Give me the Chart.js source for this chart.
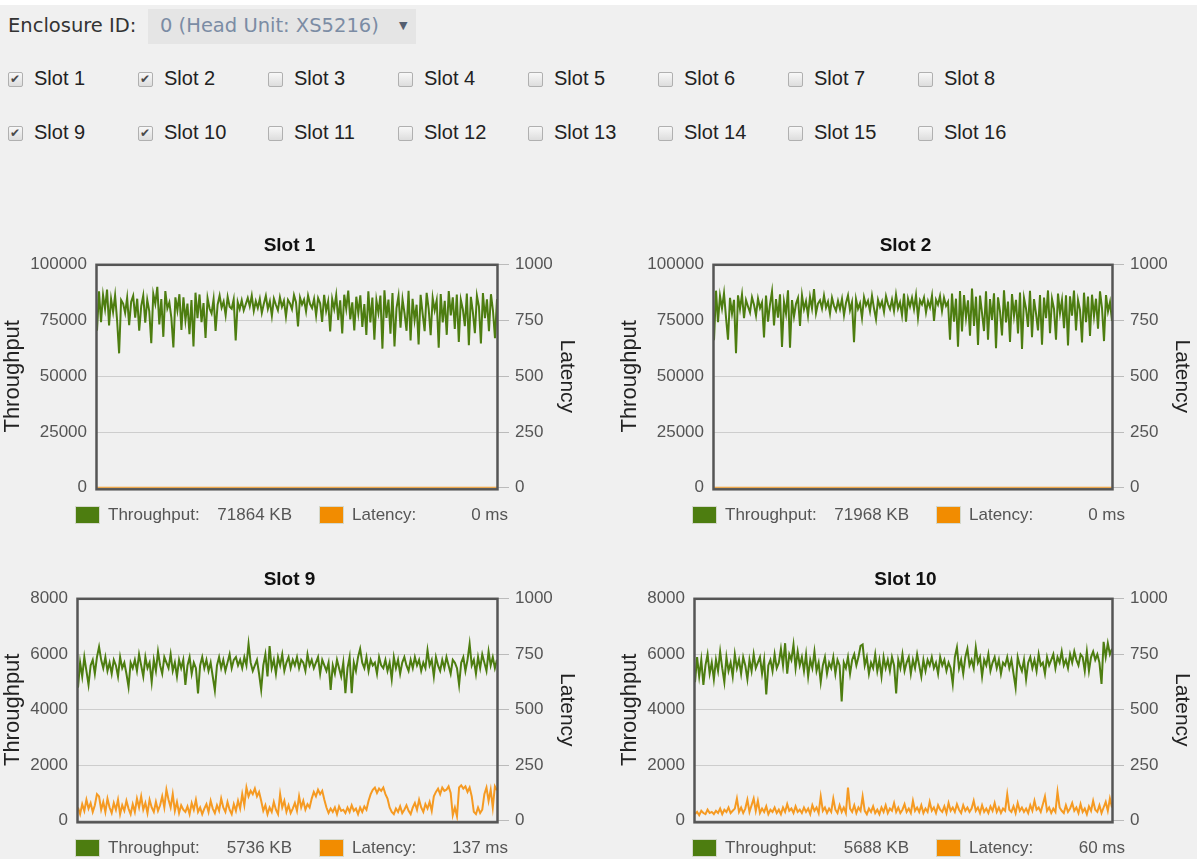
<!DOCTYPE html>
<html>
<head>
<meta charset="utf-8">
<script src="https://cdn.jsdelivr.net/npm/chart.js@4.4.1/dist/chart.umd.min.js"></script>
<style>
  body { margin: 0; width: 1197px; height: 859px; background: #f0f0f0; position: relative; overflow: hidden;
         font-family: "Liberation Sans", Arial, sans-serif; }
  .topbar { position: absolute; left: 0; top: 0; width: 1197px; height: 5px; background: #fff; }
  .enc-label { position: absolute; left: 8px; top: 14px; font: 19.5px "DejaVu Sans"; color: #333; white-space: nowrap; }
  .enc-select { position: absolute; left: 148px; top: 9px; width: 268px; height: 35px; background: #e5e5e5; }
  .enc-select .val { position: absolute; left: 12px; top: 5px; font: 19.5px "DejaVu Sans"; color: #7b8ca4; white-space: nowrap; }
  .enc-select .arrow { position: absolute; left: 251px; top: 10px; font: 11px "DejaVu Sans"; color: #555f70; }
  .slot { position: absolute; height: 20px; }
  .slot .box { position: absolute; left: 0; top: 2px; width: 13px; height: 13px; border: 1px solid #b0b0b0; border-radius: 2px;
               background: linear-gradient(#f8f8f8, #dddddd); }
  .slot .tick { position: absolute; left: 1px; top: -1px; font: 12px "DejaVu Sans"; color: #4a4a4a; }
  .slot .txt { position: absolute; left: 26px; top: -3px; font-size: 20px; color: #222; white-space: nowrap; }
  canvas { position: absolute; }
  .legend { position: absolute; height: 18px; font-size: 17px; color: #555; z-index: 2; }
  .legend .sw { position: absolute; top: 0; width: 23px; height: 16px; border: 1px solid #d4d8cc; }
  .legend span { position: absolute; top: -1px; white-space: nowrap; }
</style>
</head>
<body>
<div class="topbar"></div>
<div class="enc-label">Enclosure ID:</div>
<div class="enc-select"><span class="val">0 (Head Unit: XS5216)</span><span class="arrow">▼</span></div>
<div id="slots"></div>

<canvas id="chart1" width="579" height="278" style="left:0px;top:230px"></canvas>
<canvas id="chart2" width="577" height="278" style="left:617px;top:230px"></canvas>
<canvas id="chart9" width="579" height="277" style="left:0px;top:564px"></canvas>
<canvas id="chart10" width="577" height="277" style="left:617px;top:564px"></canvas>
<div id="legends"></div>

<script>
// header checkboxes
const slotLabels = ['Slot 1', 'Slot 2', 'Slot 3', 'Slot 4', 'Slot 5', 'Slot 6', 'Slot 7', 'Slot 8',
  'Slot 9', 'Slot 10', 'Slot 11', 'Slot 12', 'Slot 13', 'Slot 14', 'Slot 15', 'Slot 16'];
const checkedSlots = ['Slot 1', 'Slot 2', 'Slot 9', 'Slot 10'];

// charts shown
const chartTitles = ['Slot 1', 'Slot 2', 'Slot 9', 'Slot 10'];
const currentThroughputKB = [71864, 71968, 5736, 5688];
const currentLatencyMs = [0, 0, 137, 60];
const throughputTicksTop = [100000, 100000, 8000, 8000];
const latencyTicksTop = 1000;

// throughput samples, KB
const slot1Throughput = [
  70400, 88100, 74300, 86500, 80200, 88900, 72800, 84700, 78900, 86300,
  75100, 60300, 84200, 82600, 78400, 85200, 72900, 83400, 86100, 76300,
  84800, 70500, 81500, 86200, 74100, 84300, 79200, 64800, 86900, 82500,
  90100, 73300, 84600, 67700, 88200, 80400, 83100, 76200, 62900, 85400,
  79500, 86800, 70800, 85400, 75100, 82600, 68900, 84200, 63400, 87500,
  76100, 86700, 74300, 82800, 67200, 85100, 80400, 78200, 84600, 70300,
  82100, 86200, 80800, 83500, 77400, 85600, 81200, 80300, 84500, 66100,
  83300, 80200, 84100, 79600, 82300, 85100, 81400, 86200, 79300, 83700,
  80600, 84700, 78400, 82500, 86100, 80200, 83600, 77100, 84800, 82100,
  79600, 85400, 81200, 83900, 76800, 84300, 82700, 80100, 86400, 83200,
  72400, 85300, 82200, 84400, 79100, 86200, 82400, 80600, 84700, 77300,
  85100, 82800, 74400, 86500, 79300, 83600, 70100, 84600, 80200, 86400,
  75300, 84100, 69200, 86600, 80300, 88400, 75500, 83200, 70600, 85700,
  78200, 86300, 72100, 82400, 68500, 88100, 74200, 85300, 66400, 84200,
  78500, 86200, 62400, 88600, 76200, 84400, 69100, 87300, 63400, 80600,
  86100, 71800, 84500, 78200, 70400, 88300, 66100, 84700, 75200, 82100,
  64300, 86500, 78100, 70200, 87400, 80300, 68400, 85200, 79600, 84100,
  62800, 86900, 74200, 83800, 68600, 88200, 77300, 85400, 71200, 86700,
  65400, 84300, 80100, 72500, 87100, 63900, 85600, 78800, 69300, 86200,
  81400, 64700, 87300, 76100, 84500, 70200, 86800, 79400, 67100, 84600
];
const slot2Throughput = [
  66200, 88400, 74300, 86100, 80500, 87200, 76400, 66400, 85200, 78100,
  84300, 60400, 86300, 80200, 86700, 76100, 84200, 81300, 78600, 85400,
  82100, 77300, 84800, 80600, 83100, 67400, 86200, 74500, 82300, 88100,
  72800, 84600, 76300, 86800, 63200, 83400, 78100, 88600, 62800, 84200,
  76800, 82500, 85100, 72600, 86300, 80100, 83700, 77200, 85600, 80400,
  89100, 78300, 82600, 84100, 80400, 86200, 80800, 83500, 78100, 85200,
  81600, 79400, 83800, 80100, 84700, 77400, 82900, 86300, 79600, 83200,
  65300, 84600, 80300, 82800, 76200, 85400, 81700, 83900, 79200, 86100,
  80500, 75600, 84300, 81100, 83600, 78800, 85900, 82300, 80100, 84400,
  79300, 86600, 80400, 83200, 77400, 87100, 74500, 84800, 81300, 85200,
  80100, 86400, 76300, 84100, 82200, 85300, 78600, 83700, 80900, 86200,
  74800, 84300, 82100, 86000, 79300, 85200, 81600, 83400, 66400, 87100,
  74500, 84800, 63300, 88200, 70100, 86400, 76300, 84100, 68200, 89300,
  72600, 85700, 64100, 86200, 78400, 70300, 88100, 66400, 84600, 75300,
  87200, 62600, 85400, 79100, 68300, 88600, 74200, 83500, 65400, 86900,
  77100, 84300, 69200, 87600, 62300, 85100, 80400, 72100, 88300, 67500,
  84600, 78200, 70600, 86400, 64200, 85300, 76100, 88500, 69300, 84700,
  80200, 66400, 87100, 78300, 84200, 71600, 86300, 63800, 85900, 77200,
  88400, 70600, 84200, 79800, 65200, 87500, 74300, 85800, 68100, 86600,
  76900, 84800, 71300, 88100, 80600, 65800, 86400, 79100, 83300, 74900
];
const slot9Throughput = [
  4800, 5700, 5200, 5900, 5400, 4900, 5600, 5800, 5300, 5900,
  6270, 5800, 5500, 5900, 5400, 5700, 5300, 5800, 5600, 5200,
  5900, 5500, 5700, 5300, 4830, 5700, 5500, 5800, 5400, 6000,
  5600, 5200, 5900, 5500, 5700, 5000, 5800, 5400, 6100, 5600,
  5300, 5900, 5700, 5500, 6000, 5400, 5700, 5200, 5800, 5500,
  5800, 4900, 5600, 5900, 5300, 5700, 5500, 4590, 5600, 5900,
  5500, 5800, 5400, 5700, 5200, 4700, 5600, 5900, 5500, 5800,
  5400, 5700, 6000, 5500, 5800, 5900, 5600, 5800, 5500, 5900,
  5600, 6380, 5700, 5400, 5600, 5800, 5300, 4720, 5600, 6000,
  5200, 6300, 5500, 5800, 5300, 5900, 5600, 6000, 5400, 5700,
  5900, 5500, 5800, 5600, 5900, 5500, 5800, 5700, 5400, 6000,
  5600, 5800, 5500, 5700, 5900, 5300, 5800, 5600, 5400, 5700,
  4720, 5600, 5300, 5800, 5500, 5200, 5700, 4600, 5500, 5900,
  4600, 5700, 5400, 5900, 6200, 5700, 5500, 5900, 5400, 5800,
  5600, 5700, 5300, 5900, 5600, 5500, 5800, 5400, 5700, 5100,
  5900, 5500, 5800, 5300, 5700, 5900, 5600, 5400, 5800, 5500,
  5900, 5600, 5800, 5400, 5700, 5500, 6150, 5600, 5800, 5200,
  5900, 5600, 5400, 5800, 5500, 5900, 5600, 5300, 5800, 5700,
  5500, 4900, 5700, 5900, 5400, 5800, 6380, 5600, 5800, 5300,
  5900, 5500, 6000, 5700, 5400, 6100, 5600, 5900, 5500, 5800
];
const slot10Throughput = [
  5000, 5900, 5200, 5800, 4900, 5600, 6000, 5300, 5700, 5100,
  5800, 5400, 6100, 5500, 5000, 5900, 5400, 5700, 5200, 6000,
  5500, 5800, 5300, 5900, 5600, 5100, 5800, 5400, 6000, 5500,
  5700, 5900, 5300, 5800, 4550, 5600, 5800, 5400, 6000, 5500,
  5700, 6200, 5600, 6400, 5300, 6000, 5800, 6350, 5500, 6100,
  5600, 5900, 5400, 6000, 5200, 5800, 5500, 6100, 5400, 5700,
  5000, 5600, 5900, 5300, 5700, 5500, 5900, 5300, 5800, 5600,
  4300, 5700, 5500, 5900, 5300, 5800, 6000, 5600, 5900, 6300,
  6350, 5600, 5900, 5300, 5700, 5500, 6000, 5400, 5800, 5200,
  5900, 5500, 5800, 5400, 5900, 5600, 4590, 5800, 5500, 6000,
  5400, 5700, 5900, 5300, 5800, 5500, 6000, 5600, 5200, 5800,
  5400, 5800, 5600, 5900, 5500, 5700, 5300, 5900, 5600, 5800,
  5400, 5700, 5500, 4930, 5900, 6250, 5500, 5800, 5300, 5900,
  6200, 5600, 5800, 5500, 6250, 5700, 5900, 5200, 5800, 5600,
  6000, 5400, 5700, 5900, 5500, 5800, 5300, 5700, 5600, 5900,
  5500, 5800, 5300, 4800, 5900, 5600, 5400, 5800, 5100, 5700,
  5900, 5500, 5800, 5400, 6000, 5600, 5700, 5300, 5900, 5600,
  5800, 6000, 5500, 5900, 5700, 6100, 5600, 5800, 5500, 6000,
  5700, 6100, 5800, 5600, 6000, 5900, 5400, 6100, 5400, 5900,
  6100, 5800, 6000, 5700, 4930, 6450, 5900, 6400, 6000, 6200
];

// latency samples, ms
const slot1Latency = [
  0,0,0,0,0,0,0,0,0,0, 0,0,0,0,0,0,0,0,0,0, 0,0,0,0,0,0,0,0,0,0, 0,0,0,0,0,0,0,0,0,0,
  0,0,0,0,0,0,0,0,0,0, 0,0,0,0,0,0,0,0,0,0, 0,0,0,0,0,0,0,0,0,0, 0,0,0,0,0,0,0,0,0,0,
  0,0,0,0,0,0,0,0,0,0, 0,0,0,0,0,0,0,0,0,0, 0,0,0,0,0,0,0,0,0,0, 0,0,0,0,0,0,0,0,0,0,
  0,0,0,0,0,0,0,0,0,0, 0,0,0,0,0,0,0,0,0,0, 0,0,0,0,0,0,0,0,0,0, 0,0,0,0,0,0,0,0,0,0,
  0,0,0,0,0,0,0,0,0,0, 0,0,0,0,0,0,0,0,0,0, 0,0,0,0,0,0,0,0,0,0, 0,0,0,0,0,0,0,0,0,0
];
const slot2Latency = [
  0,0,0,0,0,0,0,0,0,0, 0,0,0,0,0,0,0,0,0,0, 0,0,0,0,0,0,0,0,0,0, 0,0,0,0,0,0,0,0,0,0,
  0,0,0,0,0,0,0,0,0,0, 0,0,0,0,0,0,0,0,0,0, 0,0,0,0,0,0,0,0,0,0, 0,0,0,0,0,0,0,0,0,0,
  0,0,0,0,0,0,0,0,0,0, 0,0,0,0,0,0,0,0,0,0, 0,0,0,0,0,0,0,0,0,0, 0,0,0,0,0,0,0,0,0,0,
  0,0,0,0,0,0,0,0,0,0, 0,0,0,0,0,0,0,0,0,0, 0,0,0,0,0,0,0,0,0,0, 0,0,0,0,0,0,0,0,0,0,
  0,0,0,0,0,0,0,0,0,0, 0,0,0,0,0,0,0,0,0,0, 0,0,0,0,0,0,0,0,0,0, 0,0,0,0,0,0,0,0,0,0
];
const slot9Latency = [
  60, 30, 75, 45, 95, 55, 80, 40, 70, 120,
  110, 50, 85, 40, 100, 60, 35, 80, 50, 95,
  30, 70, 45, 90, 55, 30, 75, 40, 100, 60,
  110, 50, 80, 35, 95, 60, 40, 85, 45, 70,
  110, 60, 140, 95, 60, 120, 45, 85, 35, 70,
  50, 40, 65, 30, 80, 50, 95, 40, 60, 30,
  55, 75, 40, 90, 55, 35, 70, 45, 100, 60,
  40, 85, 50, 30, 75, 45, 90, 55, 120, 70,
  150, 110, 135, 120, 145, 110, 130, 90, 45, 70,
  30, 60, 40, 85, 50, 30, 120, 60, 90, 40,
  70, 35, 55, 80, 45, 110, 60, 90, 50, 75,
  60, 100, 130, 110, 140, 120, 135, 95, 60, 35,
  55, 40, 60, 30, 65, 45, 50, 35, 60, 40,
  70, 45, 55, 30, 60, 40, 65, 50, 90, 120,
  140, 150, 125, 145, 135, 150, 120, 100, 60, 40,
  30, 55, 40, 65, 35, 50, 70, 45, 30, 60,
  80, 50, 95, 60, 40, 75, 55, 85, 45, 110,
  130, 145, 120, 150, 135, 140, 155, 125, 25, 60,
  20, 150, 160, 145, 155, 130, 150, 110, 40, 30,
  60, 35, 50, 120, 150, 90, 140, 60, 155, 137
];
const slot10Latency = [
  30, 40, 25, 45, 35, 30, 50, 35, 40, 30,
  45, 35, 55, 30, 50, 40, 60, 35, 45, 55,
  100, 40, 60, 35, 55, 95, 40, 70, 100, 45,
  90, 35, 55, 40, 65, 30, 50, 40, 60, 35,
  50, 30, 60, 40, 75, 45, 55, 35, 65, 40,
  50, 35, 60, 40, 55, 30, 70, 45, 60, 35,
  110, 45, 60, 35, 55, 40, 100, 50, 35, 70,
  40, 60, 35, 150, 55, 40, 70, 35, 60, 45,
  110, 45, 30, 55, 40, 65, 35, 50, 30, 60,
  40, 70, 35, 55, 45, 80, 40, 60, 35, 50,
  75, 40, 55, 35, 90, 45, 60, 40, 70, 35,
  55, 40, 85, 45, 60, 35, 70, 50, 40, 65,
  35, 80, 45, 60, 40, 75, 50, 35, 70, 45,
  60, 40, 55, 90, 45, 60, 35, 70, 40, 55,
  35, 65, 45, 80, 40, 60, 35, 55, 45, 120,
  50, 40, 65, 35, 80, 45, 60, 40, 55, 35,
  70, 45, 90, 50, 60, 40, 75, 110, 45, 60,
  35, 55, 40, 130, 60, 45, 35, 70, 40, 55,
  80, 45, 60, 35, 75, 40, 55, 30, 65, 45,
  90, 50, 40, 70, 35, 60, 85, 45, 100, 60
];

const GREEN = '#4d7d10';
const ORANGE = '#f59a22';
const FONT = '"Liberation Sans", Arial, sans-serif';

// checkbox grid
const slotsBox = document.getElementById('slots');
slotLabels.forEach((name, i) => {
  const el = document.createElement('div');
  el.className = 'slot';
  el.style.left = (8 + (i % 8) * 130) + 'px';
  el.style.top = (70 + Math.floor(i / 8) * 54) + 'px';
  const tick = checkedSlots.includes(name) ? '<span class="tick">✔</span>' : '';
  el.innerHTML = `<div class="box">${tick}</div><span class="txt">${name}</span>`;
  slotsBox.appendChild(el);
});

// frame around the plot area
const plotFrame = {
  id: 'plotFrame',
  afterDatasetsDraw(chart) {
    const { ctx, chartArea: a } = chart;
    ctx.save();
    ctx.strokeStyle = '#555555';
    ctx.lineWidth = 2.5;
    ctx.strokeRect(a.left - 0.5, a.top, a.width + 1, a.height + 1.5);
    ctx.restore();
  },
};

function buildChart(canvasId, index, throughput, latency, leftWidth) {
  const sampleIndex = throughput.map((_, i) => i);
  const tMax = throughputTicksTop[index];

  return new Chart(document.getElementById(canvasId), {
    type: 'line',
    data: {
      labels: sampleIndex,
      datasets: [
        { label: 'Throughput', data: throughput, yAxisID: 'y', borderColor: GREEN, borderWidth: 2, pointRadius: 0, tension: 0 },
        { label: 'Latency', data: latency, yAxisID: 'y1', borderColor: ORANGE, borderWidth: 2, pointRadius: 0, tension: 0 },
      ],
    },
    options: {
      responsive: false,
      animation: false,
      events: [],
      layout: { padding: 0 },
      plugins: {
        legend: { display: false },
        tooltip: { enabled: false },
        title: {
          display: true, text: chartTitles[index], color: '#111',
          font: { family: FONT, size: 19, weight: 'bold' }, padding: { top: 4, bottom: 8 },
        },
      },
      scales: {
        x: {
          type: 'category', offset: false,
          ticks: { display: false }, grid: { display: false }, border: { display: false },
          afterFit(s) { s.height = 10; },
        },
        y: {
          position: 'left', min: 0, max: tMax,
          ticks: { stepSize: tMax / 4, color: '#555', font: { family: FONT, size: 17 }, padding: 10, callback: (v) => String(v) },
          grid: { color: '#cdcdcd', drawTicks: false },
          border: { display: false },
          title: { display: true, text: 'Throughput', color: '#222', font: { family: FONT, size: 22 }, padding: 0 },
          afterFit(s) { s.width = leftWidth; },
        },
        y1: {
          position: 'right', min: 0, max: latencyTicksTop,
          ticks: { stepSize: 250, color: '#555', font: { family: FONT, size: 17 }, padding: 6, callback: (v) => String(v) },
          grid: { drawOnChartArea: false, color: '#bbbbbb', tickLength: 12 },
          border: { display: false },
          title: { display: true, text: 'Latency', color: '#222', font: { family: FONT, size: 21 }, padding: 0 },
          afterFit(s) { s.width = 82; },
        },
      },
    },
    plugins: [plotFrame],
  });
}

buildChart('chart1', 0, slot1Throughput, slot1Latency, 97);
buildChart('chart2', 1, slot2Throughput, slot2Latency, 97);
buildChart('chart9', 2, slot9Throughput, slot9Latency, 78);
buildChart('chart10', 3, slot10Throughput, slot10Latency, 78);

// value legends under each chart
const legendSpots = [[0, 506], [617, 506], [0, 839], [617, 839]];
const legendsBox = document.getElementById('legends');
legendSpots.forEach(([left, top], i) => {
  const el = document.createElement('div');
  el.className = 'legend';
  el.style.left = left + 'px';
  el.style.top = top + 'px';
  el.innerHTML =
    `<div class="sw" style="left:75px;background:${GREEN}"></div>` +
    `<span style="left:108px">Throughput:</span>` +
    `<span style="right:-292px">${currentThroughputKB[i]} KB</span>` +
    `<div class="sw" style="left:319px;background:#f28c00"></div>` +
    `<span style="left:352px">Latency:</span>` +
    `<span style="right:-508px">${currentLatencyMs[i]} ms</span>`;
  legendsBox.appendChild(el);
});
</script>
</body>
</html>
